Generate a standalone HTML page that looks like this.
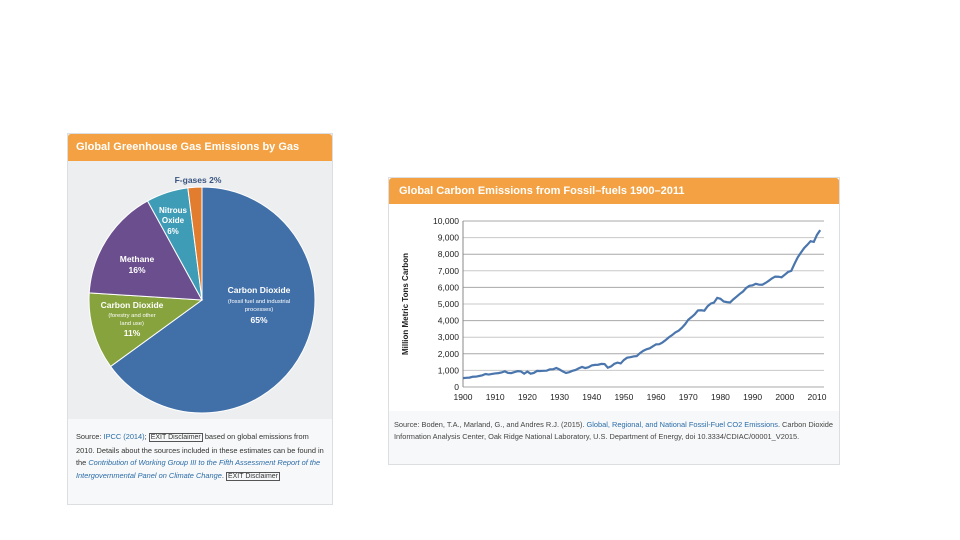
<!DOCTYPE html>
<html><head><meta charset="utf-8"><style>
*{box-sizing:border-box}
body{margin:0;width:960px;height:540px;background:#fff;font-family:"Liberation Sans",sans-serif;position:relative;overflow:hidden}
.panel{position:absolute;background:#eceef0;border:1px solid #dcdfe2}
.hdr{position:absolute;left:0;top:0;right:0;background:#f3a142;color:#fff;font-weight:bold;border-radius:3px 3px 0 0;white-space:nowrap}
.src{position:absolute;background:#f7f8f9;color:#333;overflow:hidden}
a{color:#2a6ca8;text-decoration:none}
.ex{border:1px solid #555;font-size:7px;padding:0 1px;color:#333}
</style></head><body>
<div class="panel" style="left:67px;top:133px;width:266px;height:372px">
 <div class="hdr" style="height:27px;line-height:27px;font-size:11px;padding-left:8px">Global Greenhouse Gas Emissions by Gas</div>
 <svg id="pie" width="264" height="258" style="position:absolute;left:0;top:27px"></svg>
 <div class="src" style="left:0;top:285px;width:264px;height:85px;padding:12px 6px 0 8px;font-size:7.4px;line-height:12.5px">Source: <a>IPCC (2014)</a>; <span class="ex">EXIT Disclaimer</span> based on global emissions from 2010. Details about the sources included in these estimates can be found in the <a><i>Contribution of Working Group III to the Fifth Assessment Report of the Intergovernmental Panel on Climate Change</i></a>. <span class="ex">EXIT Disclaimer</span></div>
</div>
<div class="panel" style="left:388px;top:177px;width:452px;height:288px;background:#fff">
 <div class="hdr" style="height:26px;line-height:26px;font-size:11px;padding-left:10px">Global Carbon Emissions from Fossil–fuels 1900–2011</div>
 <svg id="line" width="450" height="210" style="position:absolute;left:0;top:26px"></svg>
 <div class="src" style="left:0;top:233px;width:450px;height:53px;padding:8px 5px 0 5px;font-size:7.4px;line-height:11.5px;color:#444">Source: Boden, T.A., Marland, G., and Andres R.J. (2015). <a>Global, Regional, and National Fossil-Fuel CO2 Emissions</a>. Carbon Dioxide Information Analysis Center, Oak Ridge National Laboratory, U.S. Department of Energy, doi 10.3334/CDIAC/00001_V2015.</div>
</div>
<script>
const sliceNames=["CO2 fossil","CO2 forestry","Methane","Nitrous Oxide","F-gases"];
const sliceValues=[65,11,16,6,2];
const sliceColors=["#4170a9","#87a33d","#6b4e8e","#3f9cb6","#e27d2f"];
const years=[];for(let y=1900;y<=2011;y++)years.push(y);
const emissions=[534,552,566,617,624,663,707,784,750,785,819,836,879,943,850,838,901,955,936,806,932,803,845,970,963,975,983,1062,1065,1145,1053,940,847,893,973,1027,1130,1209,1142,1192,1299,1334,1342,1391,1383,1160,1238,1392,1469,1419,1630,1767,1795,1841,1865,2042,2177,2270,2330,2454,2569,2580,2686,2833,2995,3130,3288,3393,3566,3780,4053,4208,4376,4614,4623,4596,4864,5026,5087,5369,5315,5152,5113,5094,5280,5439,5607,5752,5965,6097,6127,6217,6164,6162,6266,6398,6542,6651,6643,6610,6765,6927,6996,7416,7807,8093,8370,8566,8783,8740,9167,9449];
const yTicks=[0,1000,2000,3000,4000,5000,6000,7000,8000,9000,10000];
const xTicks=[1900,1910,1920,1930,1940,1950,1960,1970,1980,1990,2000,2010];
const NS="http://www.w3.org/2000/svg";
function mk(p,t,a){const e=document.createElementNS(NS,t);for(const k in a)e.setAttribute(k,a[k]);p.appendChild(e);return e;}
const pie=document.getElementById('pie');
const cx=134,cy=139,r=113;let tot=sliceValues.reduce((a,b)=>a+b,0),ang=0;
sliceValues.forEach((v,i)=>{const a0=ang/tot*2*Math.PI,a1=(ang+v)/tot*2*Math.PI;ang+=v;
 const x0=cx+r*Math.sin(a0),y0=cy-r*Math.cos(a0),x1=cx+r*Math.sin(a1),y1=cy-r*Math.cos(a1);
 const p=mk(pie,'path',{d:`M${cx},${cy}L${x0},${y0}A${r},${r} 0 ${a1-a0>Math.PI?1:0} 1 ${x1},${y1}Z`,fill:sliceColors[i],stroke:'#fff','stroke-width':1});
 
 });
const labels=[[191,132,"Carbon Dioxide",8.5,"#fff",1],[191,142,"(fossil fuel and industrial",5.8,"#fff",0],[191,150,"processes)",5.8,"#fff",0],[191,162,"65%",8.5,"#fff",1],
[64,147,"Carbon Dioxide",8.5,"#fff",1],[64,156,"(forestry and other",5.8,"#fff",0],[64,164,"land use)",5.8,"#fff",0],[64,175,"11%",8.5,"#fff",1],
[69,101,"Methane",8.5,"#fff",1],[69,112,"16%",8.5,"#fff",1],[105,52,"Nitrous",8,"#fff",1],[105,62,"Oxide",8,"#fff",1],[105,73,"6%",8,"#fff",1],[130,22,"F-gases 2%",8.5,"#3a5580",1]];
labels.forEach(l=>{const t=mk(pie,'text',{x:l[0],y:l[1],'text-anchor':'middle','font-size':l[3],fill:l[4],'font-weight':l[5]?'bold':'normal'});t.textContent=l[2];
 
 });
const ln=document.getElementById('line');
const X=y=>74+(y-1900)*(354/110), Y=v=>183-v*(166/10000);
yTicks.forEach(v=>{const g=mk(ln,'line',{x1:74,x2:435,y1:Y(v),y2:Y(v),stroke:v%2000? '#c8c8c8':'#a8a8a8','stroke-width':1});
 
 
 const t=mk(ln,'text',{x:70,y:Y(v)+3,'text-anchor':'end','font-size':8.5,fill:'#222'});t.textContent=v.toLocaleString('en-US');
 
 });
const ax=mk(ln,'line',{x1:74,x2:74,y1:Y(10000),y2:Y(0),stroke:'#888'});


xTicks.forEach(v=>{const t=mk(ln,'text',{x:X(v),y:Y(0)+13,'text-anchor':'middle','font-size':8.5,fill:'#222'});t.textContent=v;
 
 });
const yt=mk(ln,'text',{x:0,y:0,transform:`translate(19,${Y(5000)}) rotate(-90)`,'text-anchor':'middle','font-size':8,'font-weight':'bold',fill:'#222'});yt.textContent="Million Metric Tons Carbon";


const pl=mk(ln,'polyline',{points:years.map((y,i)=>X(y)+','+Y(emissions[i])).join(' '),fill:'none',stroke:'#4a76ad','stroke-width':2.2});


</script>
</body></html>
